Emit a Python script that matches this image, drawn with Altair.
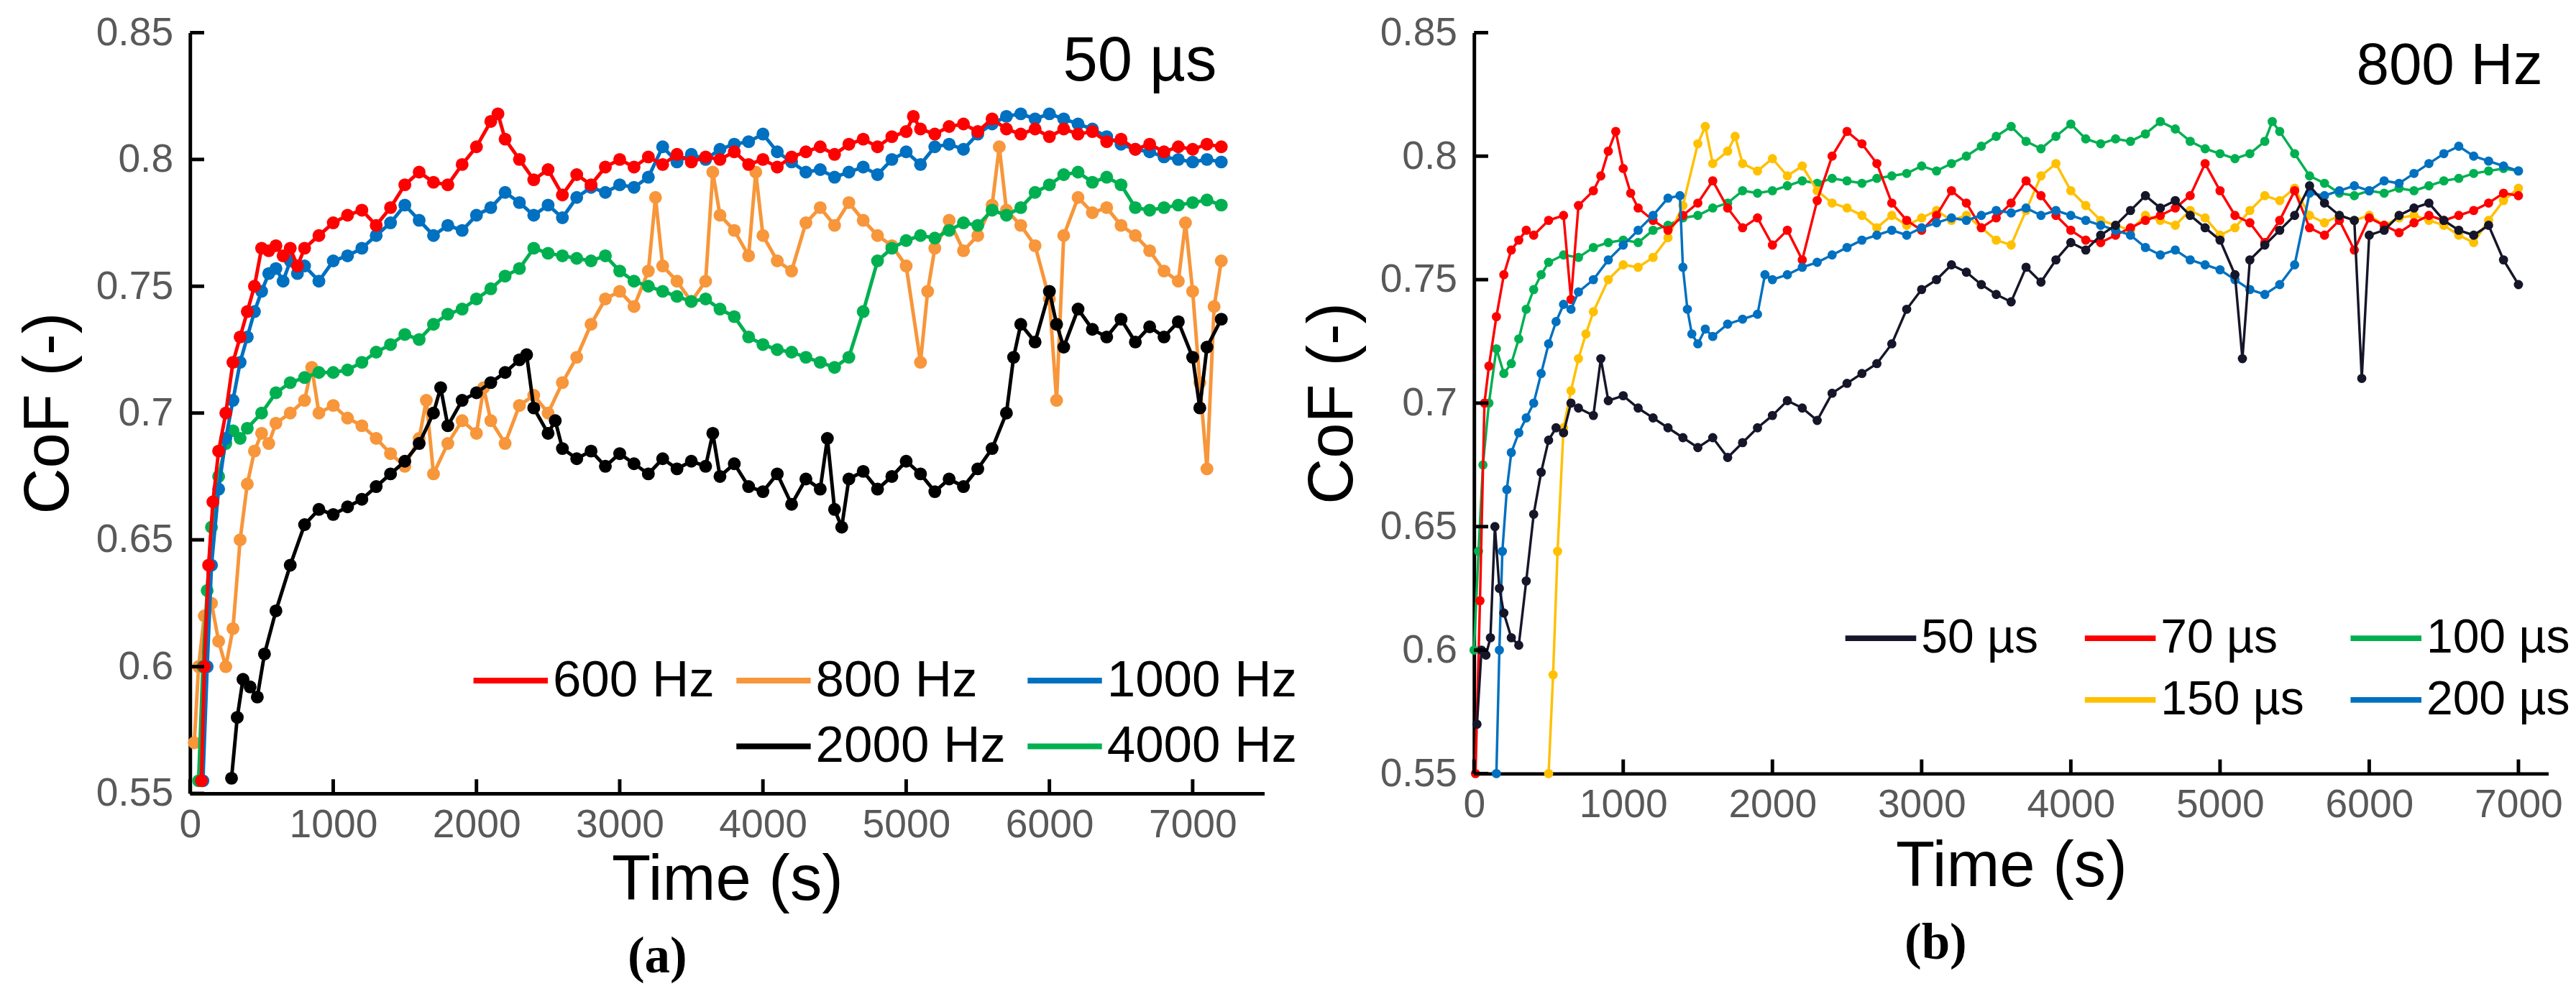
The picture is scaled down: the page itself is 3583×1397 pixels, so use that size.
import pandas as pd
import altair as alt

# ---------------- (a) 50 µs pulse, different frequencies: (time s, CoF) ----------------
A_600HZ = [(80, .555), (100, .60), (130, .64), (160, .665), (200, .685), (250, .70), (300, .72),
           (350, .73), (400, .74), (450, .75), (500, .765), (550, .764), (600, .766), (650, .762),
           (700, .765), (750, .758), (800, .765), (900, .770), (1000, .775), (1100, .778), (1200, .780),
           (1300, .774), (1400, .781), (1500, .790), (1600, .795), (1700, .791), (1800, .790), (1900, .798),
           (2000, .805), (2100, .815), (2150, .818), (2200, .808), (2300, .800), (2400, .792), (2500, .796),
           (2600, .786), (2700, .794), (2800, .790), (2900, .797), (3000, .800), (3100, .797), (3200, .801),
           (3300, .798), (3400, .802), (3500, .799), (3600, .801), (3700, .800), (3800, .803), (3900, .798),
           (4000, .800), (4100, .797), (4200, .801), (4300, .803), (4400, .805), (4500, .802), (4600, .806),
           (4700, .808), (4800, .805), (4900, .809), (5000, .811), (5050, .817), (5100, .812), (5200, .810),
           (5300, .813), (5400, .814), (5500, .811), (5600, .816), (5700, .812), (5800, .810), (5900, .812),
           (6000, .809), (6100, .812), (6200, .810), (6300, .811), (6400, .807), (6500, .808), (6600, .804),
           (6700, .806), (6800, .803), (6900, .805), (7000, .804), (7100, .806), (7200, .805)]

A_800HZ = [(30, .57), (60, .60), (100, .62), (150, .625), (200, .61), (250, .600), (300, .615),
           (350, .650), (400, .672), (450, .685), (500, .692), (550, .688), (600, .696), (700, .700),
           (800, .705), (850, .718), (900, .700), (1000, .703), (1100, .698), (1200, .695), (1300, .690),
           (1400, .684), (1500, .679), (1600, .690), (1650, .705), (1700, .676), (1800, .688), (1900, .697),
           (2000, .692), (2050, .710), (2100, .697), (2200, .688), (2300, .703), (2400, .707), (2500, .700),
           (2600, .712), (2700, .722), (2800, .735), (2900, .745), (3000, .748), (3100, .742), (3200, .756),
           (3250, .785), (3300, .758), (3400, .752), (3500, .744), (3600, .752), (3650, .795), (3700, .778),
           (3800, .772), (3900, .762), (3950, .795), (4000, .770), (4100, .760), (4200, .756), (4300, .775),
           (4400, .781), (4500, .774), (4600, .783), (4700, .776), (4800, .770), (4900, .766), (5000, .758),
           (5100, .720), (5150, .748), (5200, .765), (5300, .776), (5400, .764), (5500, .770), (5600, .782),
           (5650, .805), (5700, .780), (5800, .774), (5900, .766), (6000, .745), (6050, .705), (6100, .770),
           (6200, .785), (6300, .779), (6400, .781), (6500, .774), (6600, .770), (6700, .764), (6800, .756),
           (6900, .752), (6950, .775), (7000, .748), (7050, .712), (7100, .678), (7150, .742), (7200, .760)]

A_1000HZ = [(90, .555), (120, .60), (150, .64), (200, .67), (250, .69), (300, .705), (350, .72),
            (400, .73), (450, .74), (500, .748), (550, .755), (600, .757), (650, .752), (700, .760),
            (750, .755), (800, .758), (900, .752), (1000, .760), (1100, .762), (1200, .765), (1300, .770),
            (1400, .775), (1500, .782), (1600, .776), (1700, .770), (1800, .774), (1900, .772), (2000, .778),
            (2100, .781), (2200, .787), (2300, .783), (2400, .778), (2500, .782), (2600, .777), (2700, .785),
            (2800, .789), (2900, .787), (3000, .790), (3100, .789), (3200, .793), (3300, .805), (3400, .799),
            (3500, .802), (3600, .800), (3700, .804), (3800, .806), (3900, .807), (4000, .810), (4100, .803),
            (4200, .799), (4300, .795), (4400, .796), (4500, .793), (4600, .795), (4700, .797), (4800, .794),
            (4900, .800), (5000, .803), (5100, .798), (5200, .805), (5300, .806), (5400, .804), (5500, .810),
            (5600, .814), (5700, .817), (5800, .818), (5900, .816), (6000, .818), (6100, .816), (6200, .814),
            (6300, .812), (6400, .809), (6500, .806), (6600, .804), (6700, .803), (6800, .801), (6900, .800),
            (7000, .799), (7100, .800), (7200, .799)]

A_2000HZ = [(290, .556), (330, .580), (370, .595), (420, .592), (470, .588), (520, .605), (600, .622),
            (700, .640), (800, .656), (900, .662), (1000, .660), (1100, .663), (1200, .666), (1300, .671),
            (1400, .676), (1500, .681), (1600, .688), (1700, .700), (1750, .710), (1800, .695), (1900, .705),
            (2000, .708), (2100, .712), (2200, .716), (2300, .721), (2350, .723), (2400, .702), (2500, .692),
            (2550, .697), (2600, .686), (2700, .682), (2800, .685), (2900, .679), (3000, .684), (3100, .680),
            (3200, .676), (3300, .682), (3400, .678), (3500, .681), (3600, .679), (3650, .692), (3700, .675),
            (3800, .680), (3900, .671), (4000, .669), (4100, .676), (4200, .664), (4300, .674), (4400, .670),
            (4450, .690), (4500, .662), (4550, .655), (4600, .674), (4700, .677), (4800, .670), (4900, .675),
            (5000, .681), (5100, .676), (5200, .669), (5300, .674), (5400, .671), (5500, .678), (5600, .686),
            (5700, .700), (5750, .722), (5800, .735), (5900, .728), (6000, .748), (6050, .735), (6100, .726),
            (6200, .741), (6300, .733), (6400, .730), (6500, .737), (6600, .728), (6700, .734), (6800, .730),
            (6900, .736), (7000, .722), (7050, .702), (7100, .726), (7200, .737)]

A_4000HZ = [(60, .555), (90, .60), (120, .63), (150, .655), (200, .675), (250, .688), (300, .693),
            (350, .690), (400, .694), (500, .700), (600, .708), (700, .712), (800, .714), (900, .716),
            (1000, .716), (1100, .717), (1200, .720), (1300, .724), (1400, .727), (1500, .731), (1600, .729),
            (1700, .735), (1800, .739), (1900, .741), (2000, .745), (2100, .749), (2200, .754), (2300, .757),
            (2400, .765), (2500, .763), (2600, .762), (2700, .761), (2800, .760), (2900, .762), (3000, .756),
            (3100, .752), (3200, .750), (3300, .748), (3400, .746), (3500, .744), (3600, .745), (3700, .741),
            (3800, .738), (3900, .730), (4000, .727), (4100, .725), (4200, .724), (4300, .722), (4400, .720),
            (4500, .718), (4600, .722), (4700, .740), (4800, .760), (4900, .765), (5000, .768), (5100, .770),
            (5200, .769), (5300, .772), (5400, .775), (5500, .774), (5600, .780), (5700, .778), (5800, .781),
            (5900, .787), (6000, .790), (6100, .794), (6200, .795), (6300, .791), (6400, .793), (6500, .790),
            (6600, .781), (6700, .780), (6800, .781), (6900, .782), (7000, .783), (7100, .784), (7200, .782)]

# ---------------- (b) 800 Hz, different pulse durations ----------------
B_50US = [(20, .57), (50, .60), (80, .598), (110, .605), (140, .650), (170, .625), (200, .615),
          (250, .605), (300, .602), (350, .628), (400, .655), (450, .672), (500, .685), (550, .690),
          (600, .688), (650, .700), (700, .698), (800, .695), (850, .718), (900, .701), (1000, .703),
          (1100, .698), (1200, .694), (1300, .690), (1400, .686), (1500, .682), (1600, .686), (1700, .678),
          (1800, .684), (1900, .690), (2000, .695), (2100, .701), (2200, .698), (2300, .693), (2400, .704),
          (2500, .708), (2600, .712), (2700, .716), (2800, .724), (2900, .738), (3000, .746), (3100, .750),
          (3200, .756), (3300, .753), (3400, .748), (3500, .744), (3600, .741), (3700, .755), (3800, .749),
          (3900, .758), (4000, .765), (4100, .762), (4200, .768), (4300, .772), (4400, .778), (4500, .784),
          (4600, .779), (4700, .782), (4800, .776), (4900, .771), (5000, .766), (5100, .752), (5150, .718),
          (5200, .758), (5300, .764), (5400, .770), (5500, .776), (5600, .788), (5700, .781), (5800, .776),
          (5900, .774), (5950, .710), (6000, .768), (6100, .770), (6200, .776), (6300, .779), (6400, .781),
          (6500, .774), (6600, .770), (6700, .768), (6800, .772), (6900, .758), (7000, .748)]

B_70US = [(10, .55), (40, .62), (70, .70), (100, .715), (150, .735), (200, .752), (250, .762),
          (300, .766), (350, .770), (400, .768), (500, .774), (600, .776), (650, .742), (700, .780),
          (800, .786), (850, .792), (900, .802), (950, .810), (1000, .795), (1050, .785), (1100, .779),
          (1200, .774), (1300, .770), (1400, .776), (1500, .781), (1600, .790), (1700, .779), (1800, .771),
          (1900, .775), (2000, .764), (2100, .770), (2200, .758), (2300, .782), (2400, .800), (2500, .810),
          (2600, .805), (2700, .797), (2800, .781), (2900, .774), (3000, .770), (3100, .776), (3200, .786),
          (3300, .781), (3400, .771), (3500, .775), (3600, .781), (3700, .790), (3800, .784), (3900, .776),
          (4000, .770), (4100, .766), (4200, .765), (4300, .768), (4400, .771), (4500, .774), (4600, .776),
          (4700, .779), (4800, .784), (4900, .797), (5000, .786), (5100, .776), (5200, .773), (5300, .765),
          (5400, .774), (5500, .786), (5600, .771), (5700, .768), (5800, .774), (5900, .762), (6000, .775),
          (6100, .772), (6200, .769), (6300, .773), (6400, .776), (6500, .774), (6600, .776), (6700, .778),
          (6800, .781), (6900, .785), (7000, .784)]

B_100US = [(0, .600), (30, .640), (60, .675), (100, .700), (150, .722), (200, .712), (250, .716),
           (300, .726), (350, .738), (400, .746), (450, .752), (500, .757), (600, .760), (700, .759),
           (800, .763), (900, .765), (1000, .766), (1100, .765), (1200, .770), (1300, .772), (1400, .775),
           (1500, .776), (1600, .779), (1700, .781), (1800, .786), (1900, .785), (2000, .786), (2100, .788),
           (2200, .790), (2300, .789), (2400, .791), (2500, .790), (2600, .789), (2700, .791), (2800, .792),
           (2900, .793), (3000, .796), (3100, .794), (3200, .797), (3300, .800), (3400, .804), (3500, .808),
           (3600, .812), (3700, .806), (3800, .803), (3900, .808), (4000, .813), (4100, .807), (4200, .805),
           (4300, .807), (4400, .806), (4500, .809), (4600, .814), (4700, .811), (4800, .806), (4900, .803),
           (5000, .801), (5100, .799), (5200, .801), (5300, .806), (5350, .814), (5400, .810), (5500, .801),
           (5600, .792), (5700, .789), (5800, .785), (5900, .784), (6000, .786), (6100, .785), (6200, .787),
           (6300, .786), (6400, .788), (6500, .790), (6600, .791), (6700, .793), (6800, .794), (6900, .795),
           (7000, .794)]

B_150US = [(500, .550), (530, .590), (560, .640), (600, .690), (650, .705), (700, .718), (750, .728),
           (800, .737), (900, .750), (1000, .756), (1100, .755), (1200, .759), (1300, .767), (1400, .780),
           (1500, .805), (1550, .812), (1600, .797), (1700, .802), (1750, .808), (1800, .797), (1900, .794),
           (2000, .799), (2100, .792), (2200, .796), (2300, .786), (2400, .781), (2500, .779), (2600, .776),
           (2700, .771), (2800, .776), (2900, .772), (3000, .775), (3100, .778), (3200, .774), (3300, .776),
           (3400, .771), (3500, .766), (3600, .764), (3700, .778), (3800, .792), (3900, .797), (4000, .786),
           (4100, .780), (4200, .774), (4300, .772), (4400, .770), (4500, .776), (4600, .774), (4700, .772),
           (4800, .778), (4900, .775), (5000, .768), (5100, .771), (5200, .778), (5300, .784), (5400, .782),
           (5500, .787), (5600, .776), (5700, .773), (5800, .776), (5900, .774), (6000, .776), (6100, .772),
           (6200, .775), (6300, .776), (6400, .774), (6500, .772), (6600, .768), (6700, .765), (6800, .774),
           (6900, .782), (7000, .787)]

B_200US = [(150, .550), (170, .600), (190, .640), (220, .665), (250, .680), (300, .688), (350, .694),
           (400, .700), (450, .712), (500, .724), (550, .733), (600, .740), (650, .738), (700, .745),
           (800, .750), (900, .758), (1000, .764), (1100, .770), (1200, .776), (1300, .783), (1380, .784),
           (1400, .755), (1430, .738), (1460, .728), (1500, .724), (1550, .730), (1600, .727), (1700, .732),
           (1800, .734), (1900, .736), (1950, .752), (2000, .750), (2100, .752), (2200, .755), (2300, .757),
           (2400, .760), (2500, .763), (2600, .766), (2700, .768), (2800, .770), (2900, .768), (3000, .771),
           (3100, .773), (3200, .775), (3300, .774), (3400, .776), (3500, .778), (3600, .777), (3700, .779),
           (3800, .776), (3900, .778), (4000, .776), (4100, .774), (4200, .772), (4300, .770), (4400, .768),
           (4500, .763), (4600, .760), (4700, .762), (4800, .758), (4900, .756), (5000, .754), (5100, .750),
           (5200, .746), (5300, .744), (5400, .748), (5500, .756), (5600, .785), (5700, .784), (5800, .786),
           (5900, .788), (6000, .786), (6100, .790), (6200, .789), (6300, .793), (6400, .797), (6500, .801),
           (6600, .804), (6700, .800), (6800, .798), (6900, .796), (7000, .794)]

X_TICKS = [0, 1000, 2000, 3000, 4000, 5000, 6000, 7000]
Y_TICKS = [0.55, 0.6, 0.65, 0.7, 0.75, 0.8, 0.85]

# legend order (blank slot pushes the second row to the right, as in the figure)
A_LEGEND = ['600 Hz', '800 Hz', '1000 Hz', ' ', '2000 Hz', '4000 Hz']
A_COLORS = ['#ff0000', '#f7963a', '#0070c0', 'rgba(0,0,0,0)', '#000000', '#00b050']
B_LEGEND = ['50 µs', '70 µs', '100 µs', ' ', '150 µs', '200 µs']
B_COLORS = ['#16162a', '#ff0000', '#00b050', 'rgba(0,0,0,0)', '#ffc000', '#0070c0']

FONT = 'Liberation Sans'


def to_frame(named):
    rows = []
    for name, pts in named.items():
        rows += [{'series': name, 't': t, 'cof': v} for t, v in pts]
    return pd.DataFrame(rows)


def panel(df, draw_order, domain, colors, width, height, x_max, tag, tag_size, tag_x, tag_y,
          label, title_y, leg, line_w, pt_size):
    x_enc = alt.X('t:Q', title='Time (s)',
                  scale=alt.Scale(domain=[0, x_max], nice=False, zero=False),
                  axis=alt.Axis(values=X_TICKS, format='d', ticks=False, tickSize=0, grid=False,
                                domainColor='black', domainWidth=5, labelFlush=False,
                                labelFont=FONT, labelFontSize=56, labelColor='#595959', labelPadding=17,
                                titleFont=FONT, titleFontSize=90, titleFontWeight='normal',
                                titleColor='black', titleY=title_y, titleBaseline='alphabetic'))
    y_enc = alt.Y('cof:Q', title='CoF (-)',
                  scale=alt.Scale(domain=[0.55, 0.85], nice=False, zero=False),
                  axis=alt.Axis(values=Y_TICKS, format='.2~f', ticks=False, tickSize=0, grid=False,
                                domainColor='black', domainWidth=5, labelFlush=False,
                                labelFont=FONT, labelFontSize=56, labelColor='#595959', labelPadding=24,
                                titleFont=FONT, titleFontSize=90, titleFontWeight='normal',
                                titleColor='black', titleAngle=270, titleX=-199, titleY=height / 2,
                                titleBaseline='middle', titleAlign='center'))
    color_enc = alt.Color('series:N', scale=alt.Scale(domain=domain, range=colors),
                          legend=alt.Legend(title=None, orient='none', legendX=leg['x'], legendY=leg['y'],
                                            direction='horizontal', columns=3, symbolType='stroke',
                                            symbolSize=leg['sym'], symbolStrokeWidth=8,
                                            labelFont=FONT, labelFontSize=leg['font'], labelColor='black',
                                            labelOffset=3, labelLimit=1000, columnPadding=leg['colpad'],
                                            rowPadding=leg['rowpad']))

    layers = []
    for name in draw_order:
        layers.append(
            alt.Chart(df).transform_filter(alt.datum.series == name).mark_line(
                strokeWidth=line_w,
                point=alt.OverlayMarkDef(filled=True, size=pt_size)
            ).encode(x=x_enc, y=y_enc, color=color_enc)
        )

    # inward-pointing tick marks like the original figure
    x_ticks = alt.Chart(pd.DataFrame({'t': X_TICKS})).mark_rule(color='black', strokeWidth=5).encode(
        x=x_enc, y=alt.value(height), y2=alt.value(height - 20))
    y_ticks = alt.Chart(pd.DataFrame({'cof': Y_TICKS})).mark_rule(color='black', strokeWidth=5).encode(
        y=y_enc, x=alt.value(0), x2=alt.value(20))

    tag_layer = alt.Chart(pd.DataFrame({'tag': [tag]})).mark_text(
        align='right', baseline='middle', font=FONT, fontSize=tag_size, color='black'
    ).encode(text='tag:N', x=alt.value(tag_x), y=alt.value(tag_y))

    return alt.layer(*layers, x_ticks, y_ticks, tag_layer).properties(
        width=width, height=height,
        title=alt.TitleParams(label, orient='bottom', anchor='middle', frame='bounds',
                              font='Liberation Serif', fontSize=72, fontWeight='bold',
                              color='black', offset=28)
    )


df_a = to_frame({'600 Hz': A_600HZ, '800 Hz': A_800HZ, '1000 Hz': A_1000HZ,
                 '2000 Hz': A_2000HZ, '4000 Hz': A_4000HZ})
df_b = to_frame({'50 µs': B_50US, '70 µs': B_70US, '100 µs': B_100US,
                 '150 µs': B_150US, '200 µs': B_200US})

left = panel(df_a, ['800 Hz', '2000 Hz', '4000 Hz', '1000 Hz', '600 Hz'], A_LEGEND, A_COLORS,
             1516, 1074, 7500, '50 µs', 88, 1449, 42, '(a)', 150,
             {'x': 396, 'y': 858, 'sym': 11000, 'font': 72, 'colpad': 14, 'rowpad': -17},
             5, 330)
right = panel(df_b, ['100 µs', '150 µs', '70 µs', '200 µs', '50 µs'], B_LEGEND, B_COLORS,
              1516, 1046, 7200, '800 Hz', 83, 1508, 48, '(b)', 158,
              {'x': 520, 'y': 801, 'sym': 10000, 'font': 67, 'colpad': 49, 'rowpad': -19},
              3.5, 170)

chart = alt.hconcat(left, right, spacing=5).resolve_scale(
    x='independent', y='independent', color='independent'
).resolve_legend(color='independent').properties(
    padding={'left': 16, 'top': 0, 'right': 0, 'bottom': 0}
).configure_view(stroke=None)

chart.save("out.html", embed_options={"renderer": "svg", "actions": False})
